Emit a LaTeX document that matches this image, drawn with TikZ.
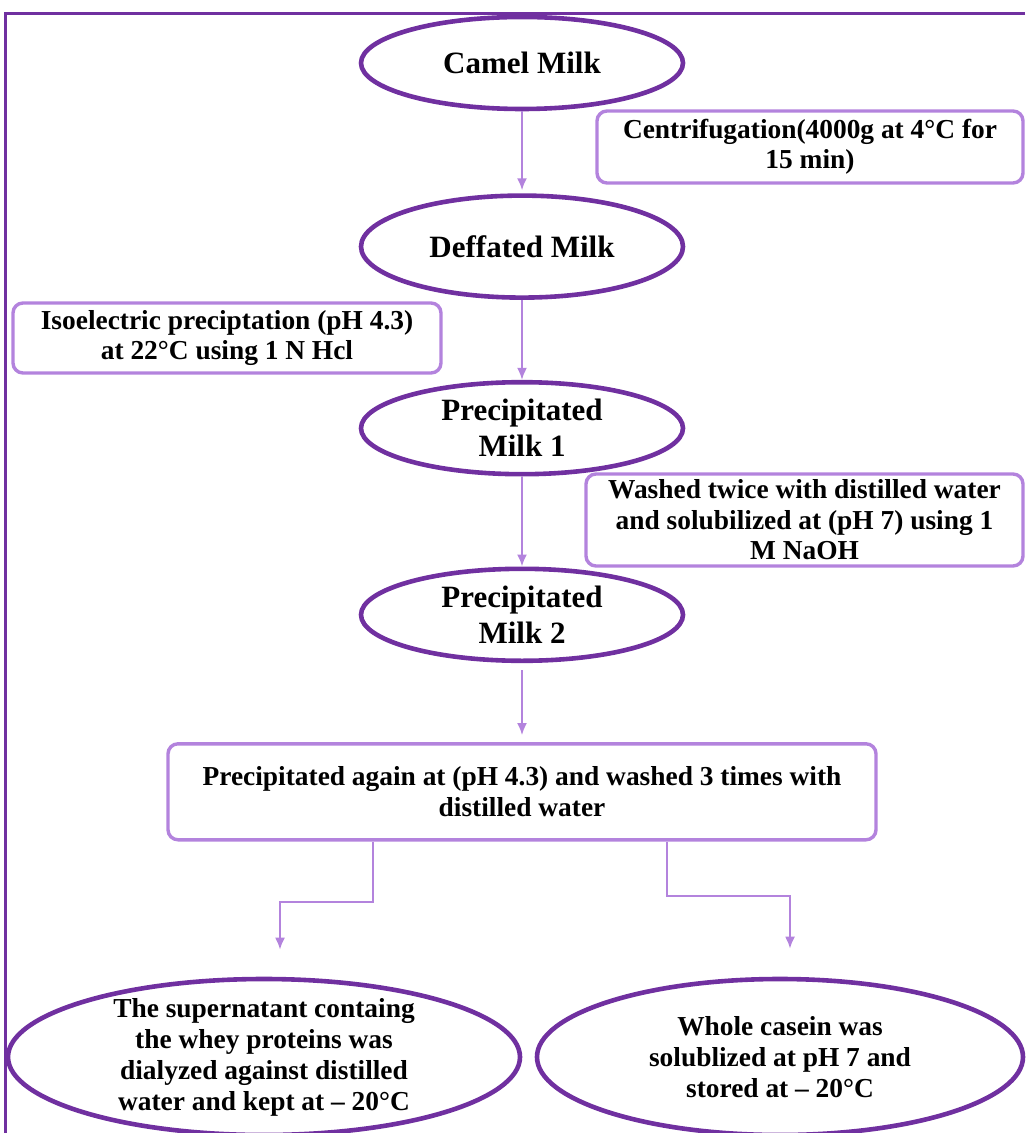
\documentclass[tikz,border=0pt]{standalone}
\usepackage{fontspec}
\setmainfont{Liberation Serif}
\usepackage{xcolor}
\usetikzlibrary{arrows.meta,positioning,shapes.geometric}

\definecolor{darkpurple}{HTML}{7030A0}
\definecolor{lightpurple}{HTML}{B383DD}

\begin{document}
\begin{tikzpicture}[
  x=0.5pt, y=0.5pt,
  node distance=41pt,
  stage/.style={
    ellipse,
    draw=darkpurple,
    line width=2.3pt,
    align=center,
    inner xsep=0pt,
    inner ysep=-2pt,
    minimum width=161pt,
    minimum height=46pt,
    font=\fontsize{15.5}{18}\selectfont\bfseries
  },
  result/.style={
    stage,
    minimum width=256pt,
    minimum height=78pt,
    font=\fontsize{13.7}{15.5}\selectfont\bfseries
  },
  box/.style={
    draw=lightpurple,
    line width=1.7pt,
    rounded corners=5pt,
    align=center,
    inner sep=0pt,
    font=\fontsize{13.7}{15.2}\selectfont\bfseries
  },
  arrow/.style={-{Latex[length=6pt,width=5pt]},draw=lightpurple,line width=1pt}
]
  \useasboundingbox (0,0) rectangle (1025,-1133);
  \draw[darkpurple,line width=1.5pt] (1025,-14) -- (5,-14) -- (5,-1133);

  \node[stage] (camel) at (522,-63) {Camel Milk};
  \node[stage,minimum height=51pt,below=of camel] (defatted) {Deffated Milk};
  \node[stage,below=40pt of defatted] (prec1) {Precipitated\\Milk 1};
  \node[stage,below=45pt of prec1] (prec2) {Precipitated\\Milk 2};
  \node[box,minimum width=354pt,minimum height=48pt,below=39.5pt of prec2] (again)
    {Precipitated again at (pH 4.3) and washed 3 times with\\distilled water};

  % side notes
  \node[box,minimum width=213pt,minimum height=36pt] (centri) at (810,-147)
    {Centrifugation(4000g at 4°C for\\15 min)};
  \node[box,minimum width=214pt,minimum height=35pt] (isoel) at (227,-338)
    {Isoelectric preciptation (pH 4.3)\\at 22°C using 1 N Hcl};
  \node[box,minimum width=218.5pt,minimum height=46pt] (wash) at (804.5,-520)
    {Washed twice with distilled water\\and solubilized at (pH 7) using 1\\M NaOH};

  \node[result] (whey) at (264,-1057)
    {The supernatant containg\\the whey proteins was\\dialyzed against distilled\\water and kept at – 20°C};
  \node[result,minimum width=243pt] (casein) at (780,-1057)
    {Whole casein was\\solublized at pH 7 and\\stored at – 20°C};

  \draw[arrow,shorten >=1.5pt] (camel) -- (defatted);
  \draw[arrow] (defatted) -- (prec1);
  \draw[arrow] (prec1) -- (prec2);
  \draw[arrow,shorten <=3.5pt,shorten >=3.5pt] (prec2) -- (again);
  \draw[arrow] ([xshift=-74.5pt]again.south) -- ++(0,-60) -| ([xshift=8pt,yshift=13.5pt]whey.north);
  \draw[arrow] ([xshift=72.5pt]again.south) -- ++(0,-54) -| ([xshift=5pt,yshift=14pt]casein.north);
\end{tikzpicture}
\end{document}
